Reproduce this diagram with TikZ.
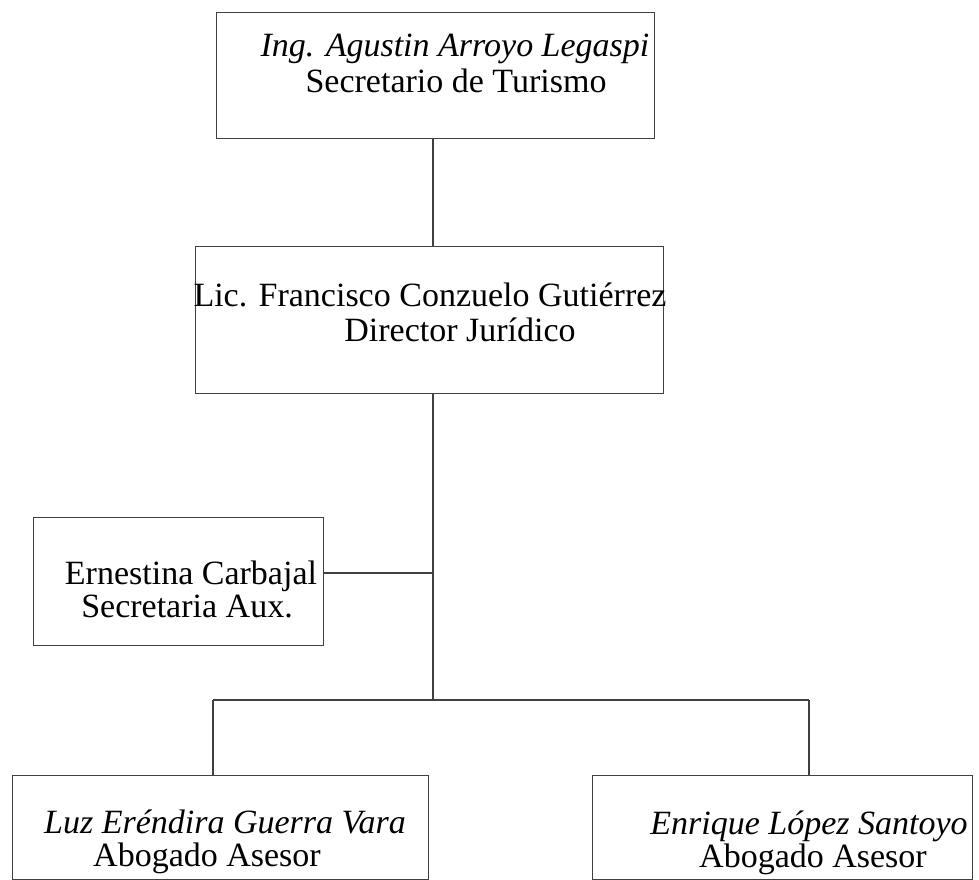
\documentclass[tikz,border=0pt]{standalone}
\usepackage{fontspec}
\setmainfont{Liberation Serif}
\begin{document}
\begin{tikzpicture}[x=1pt,y=-1pt,
  boxst/.style={draw=black!75,line width=1.1pt,inner sep=0pt,anchor=north west},
  conn/.style={draw=black!75,line width=1.1pt},
  txt/.style={anchor=base,inner sep=0pt,font=\fontsize{34}{34}\selectfont},
  itxt/.style={txt,font=\fontsize{34}{34}\selectfont\itshape}]
\useasboundingbox (0,0) rectangle (979,880);
% boxes
\node[boxst,minimum width=438pt,minimum height=126pt] (b1) at (216,12) {};
\node[boxst,minimum width=468pt,minimum height=147pt] (b2) at (195,246) {};
\node[boxst,minimum width=290pt,minimum height=128pt] (b3) at (33,517) {};
\node[boxst,minimum width=416pt,minimum height=104pt] (b4) at (12,775) {};
\node[boxst,minimum width=380pt,minimum height=104pt] (b5) at (592,775) {};
% texts
\node[itxt] (t1a) at (455,57) {Ing. Agustin Arroyo Legaspi};
\node[txt] (t1b) at (456,93) {Secretario de Turismo};
\node[txt] (t2a) at (430,306) {Lic. Francisco Conzuelo Gutiérrez};
\node[txt] (t2b) at (460,341) {Director Jurídico};
\node[txt] (t3a) at (191,584) {Ernestina Carbajal};
\node[txt] (t3b) at (187,617) {Secretaria Aux.};
\node[itxt] (t4a) at (225,833) {Luz Eréndira Guerra Vara};
\node[txt] (t4b) at (207,866) {Abogado Asesor};
\node[itxt] (t5a) at (809,834) {Enrique López Santoyo};
\node[txt] (t5b) at (813,867) {Abogado Asesor};
% junction coordinates
\coordinate (j1) at (433,700);
\coordinate (j2) at (433,573);
\coordinate (jl) at (213,700);
\coordinate (jr) at (809,700);
% connectors
\draw[conn] (b1.south -| j1) -- (b2.north -| j1);
\draw[conn] (b2.south -| j1) -- (j1);
\draw[conn] (b3.east |- j2) -- (j2);
\draw[conn] (jl) -- (jr);
\draw[conn] (jl) -- (b4.north -| jl);
\draw[conn] (jr) -- (b5.north -| jr);
\end{tikzpicture}
\end{document}
